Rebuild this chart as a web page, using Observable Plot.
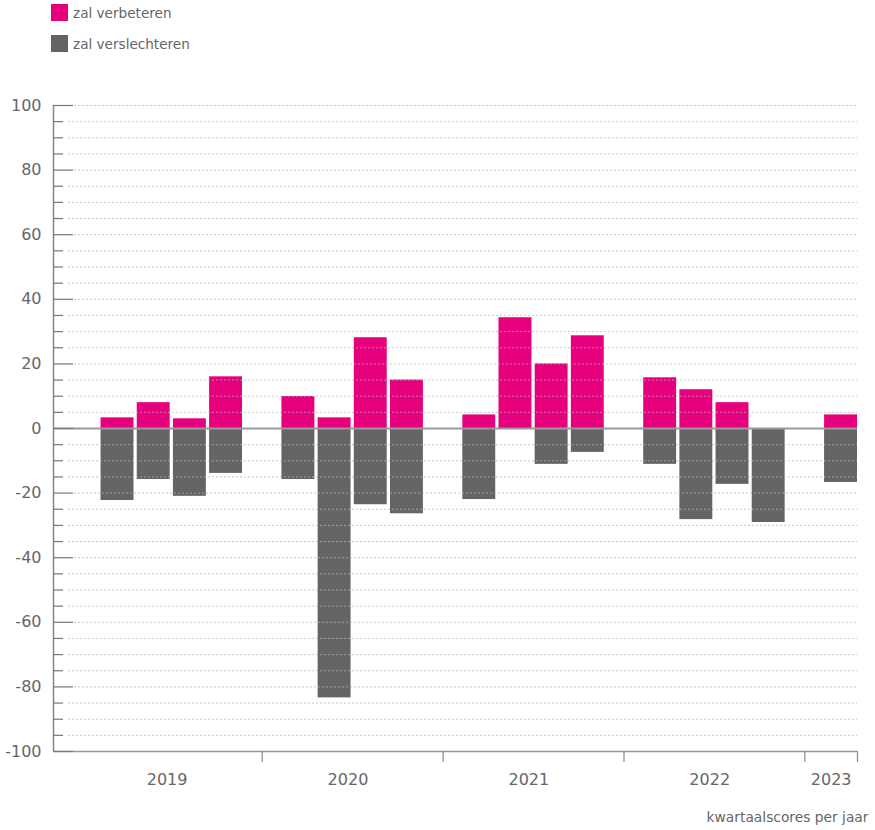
<!DOCTYPE html>
<html><head><meta charset="utf-8">
<script src="https://cdn.jsdelivr.net/npm/d3@7"></script>
<script src="https://cdn.jsdelivr.net/npm/@observablehq/plot@0.6"></script>
<style>
body{margin:0;font-family:"DejaVu Sans",Verdana,sans-serif;color:#666;background:#fff}
#legend{position:relative;height:60px;font-size:13.6px}
.item{position:absolute;left:51px;height:17px;display:flex;align-items:center}
.sw{width:17px;height:17px;margin-right:5px}
</style></head><body>
<div id="legend"></div>
<div id="chart"></div>
<script>
// data
const periods = ["2019 K1","2019 K2","2019 K3","2019 K4","2020 K1","2020 K2","2020 K3","2020 K4","2021 K1","2021 K2","2021 K3","2021 K4","2022 K1","2022 K2","2022 K3","2022 K4","2023 K1"];
const verbeteren = [3.3, 8, 3, 16, 9.9, 3.3, 28.1, 15, 4.2, 34.3, 20, 28.7, 15.7, 12, 8, 0, 4.2];
const verslechteren = [-22.3, -15.8, -21, -13.9, -15.8, -83.4, -23.6, -26.4, -22, 0, -11.1, -7.4, -11.1, -28.2, -17.3, -29.1, -16.7];
const seriesNames = ["zal verbeteren", "zal verslechteren"];
const seriesColors = ["#e6007e", "#646464"];
const years = [2019, 2020, 2021, 2022, 2023];
const yMajorTicks = d3.range(-100, 101, 20);
const caption = "kwartaalscores per jaar";

// legend
const legend = document.getElementById("legend");
seriesNames.forEach((n, i) => {
  const it = document.createElement("div");
  it.className = "item";
  it.style.top = (4 + i * 31) + "px";
  it.innerHTML = `<span class="sw" style="background:${seriesColors[i]}"></span><span>${n}</span>`;
  legend.appendChild(it);
});

// layout
const W = 875, H = 770, mL = 53, mR = 18, mT = 45, mB = 79;
const plotW = W - mL - mR, plotH = H - mT - mB;
const half = 0.455;
const slot = p => (+p.slice(0, 4) - years[0]) * 5 + +p.slice(-1);
const rows = periods.map((p, i) => ({p, s: slot(p), up: verbeteren[i], down: verslechteren[i]}));
const sFirst = d3.min(rows, d => d.s), sLast = d3.max(rows, d => d.s);
const xDomain = [sFirst - 1.77, sLast + half];
const seps = years.slice(1).map(y => (y - years[0]) * 5).concat([xDomain[1]]);
const yearRows = years.map((y, k) => {
  const qs = rows.filter(d => d.p.startsWith(String(y))).map(d => d.s);
  let xc = d3.mean(qs) - 0.13;
  if (k === years.length - 1) xc = Math.min(xc, ((y - years[0]) * 5 + xDomain[1]) / 2);
  return {label: String(y), x: xc};
});
const grid = d3.range(-95, 101, 5).filter(v => v !== 0);
const gridMajor = grid.filter(v => v % 20 === 0);
const gridMinor = grid.filter(v => v % 20 !== 0);
const minorTicks = d3.range(-95, 100, 5).filter(v => v % 20 !== 0);

const chart = Plot.plot({
  width: W, height: H,
  marginLeft: mL, marginRight: mR, marginTop: mT, marginBottom: mB,
  style: {fontFamily: "'DejaVu Sans', Verdana, sans-serif", background: "#fff"},
  x: {domain: xDomain, axis: null},
  y: {domain: [-100, 100], axis: null},
  marks: [
    Plot.rectY(rows.filter(d => d.up), {x1: d => d.s - half, x2: d => d.s + half, y1: 0, y2: "up", fill: seriesColors[0]}),
    Plot.rectY(rows.filter(d => d.down), {x1: d => d.s - half, x2: d => d.s + half, y1: 0, y2: "down", fill: seriesColors[1]}),
    Plot.ruleY(gridMinor, {y: d => d, insetLeft: 15, stroke: "#b4b4b4", strokeOpacity: 0.75, strokeDasharray: "2,2"}),
    Plot.ruleY(gridMajor, {y: d => d, insetLeft: 21, stroke: "#b4b4b4", strokeOpacity: 0.75, strokeDasharray: "2,2"}),
    Plot.ruleY([0], {stroke: "#999", strokeWidth: 2}),
    Plot.ruleY([-100], {stroke: "#999", strokeWidth: 1.5}),
    Plot.ruleX([xDomain[0]], {stroke: "#888", strokeWidth: 1.5}),
    Plot.tickY(yMajorTicks, {y: d => d, insetRight: plotW - 20, stroke: "#777", strokeWidth: 1.2}),
    Plot.tickY(minorTicks, {y: d => d, insetRight: plotW - 10, stroke: "#777", strokeWidth: 1.2}),
    Plot.text(yMajorTicks, {y: d => d, text: d => String(d), frameAnchor: "left", dx: -12, textAnchor: "end", fontSize: 16, fill: "#666"}),
    Plot.ruleX(seps, {x: d => d, insetTop: plotH, insetBottom: -11, stroke: "#888", strokeWidth: 1.2}),
    Plot.text(yearRows, {x: "x", text: "label", frameAnchor: "bottom", dy: 33, fontSize: 16, fill: "#666"}),
    Plot.text([caption], {text: d => d, frameAnchor: "bottom-right", dx: 11, dy: 70, textAnchor: "end", fontSize: 13.8, fill: "#666"})
  ]
});
document.getElementById("chart").appendChild(chart);
</script>
</body></html>
